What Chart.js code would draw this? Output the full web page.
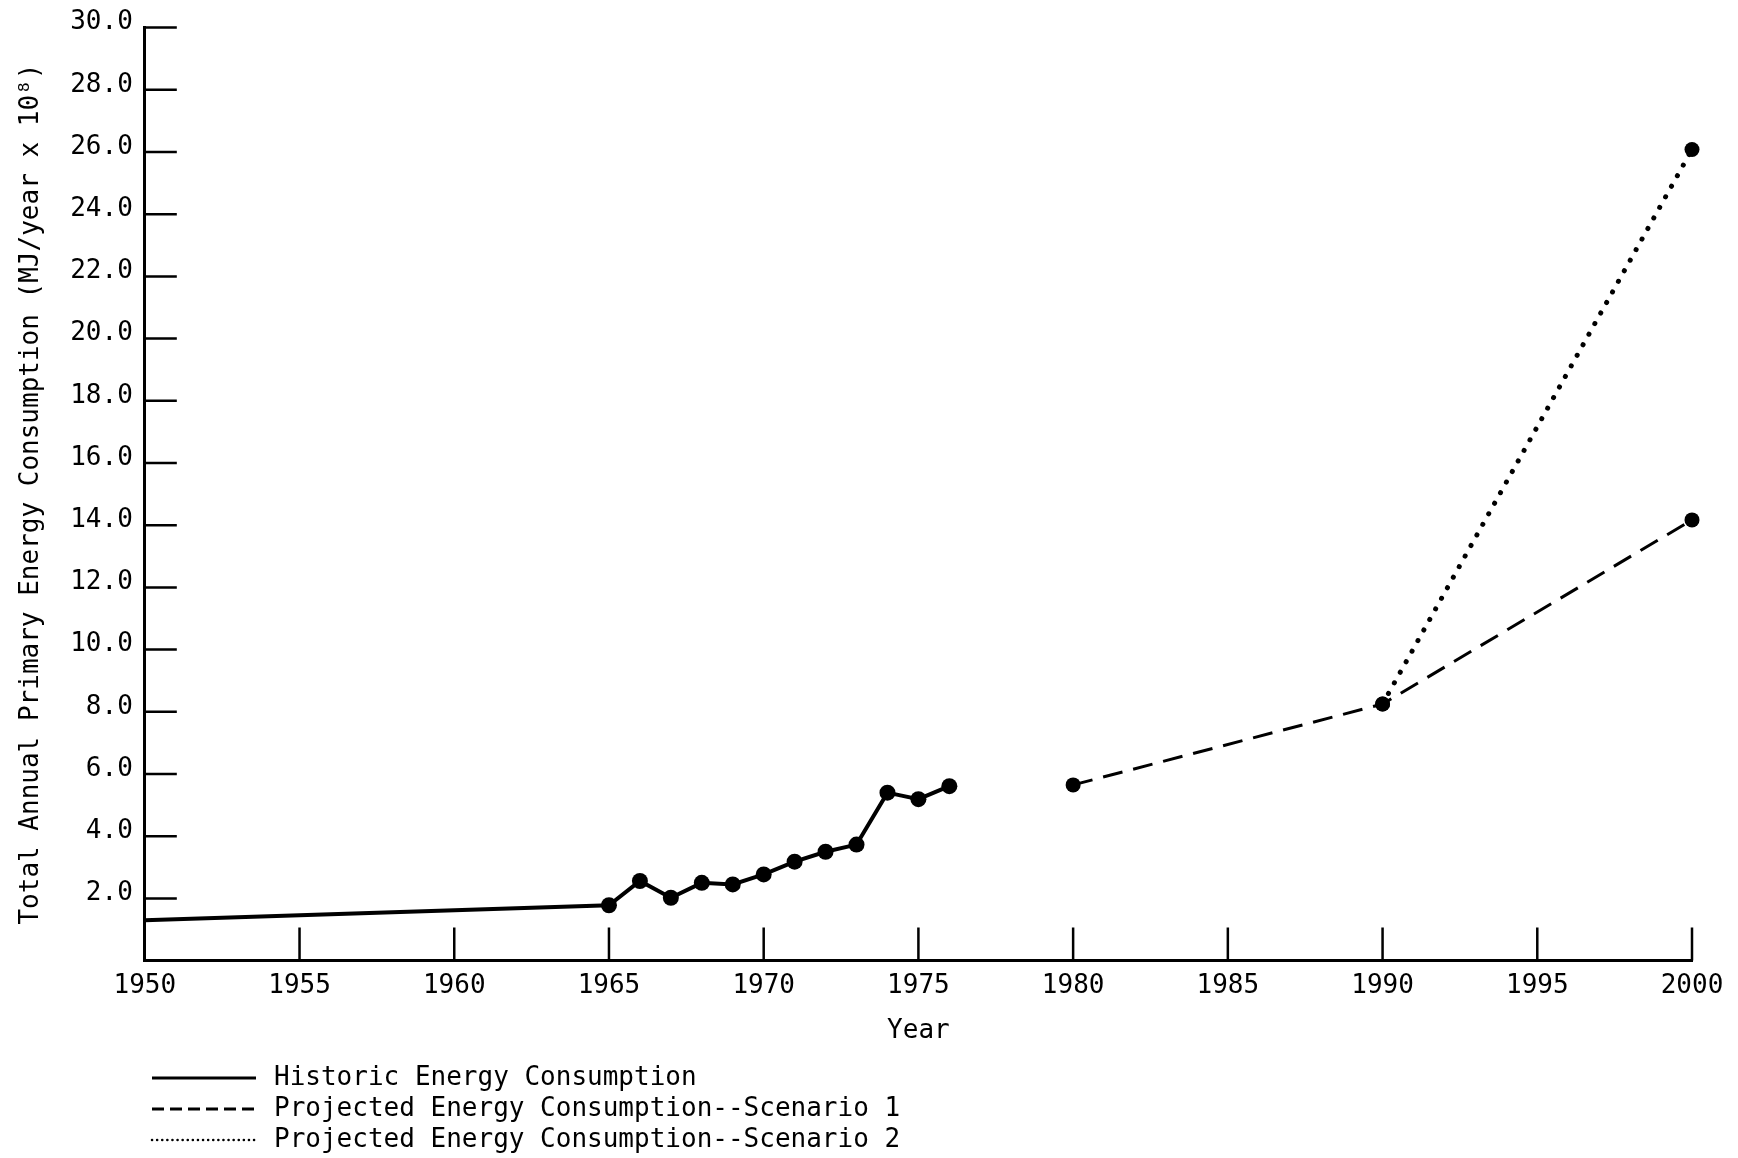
<!DOCTYPE html>
<html>
<head>
<meta charset="utf-8">
<script src="https://cdn.jsdelivr.net/npm/chart.js@4.4.1/dist/chart.umd.min.js"></script>
<style>
    html, body { margin: 0; padding: 0; background: #fff; }
    #wrap { width: 1738px; height: 1158px; position: relative; }
</style>
</head>
<body>
<div id="wrap"><canvas id="myChart" width="1738" height="1158"></canvas></div>
<script>
// values
const historicYears = [1950, 1965, 1966, 1967, 1968, 1969, 1970, 1971, 1972, 1973, 1974, 1975, 1976];
const historicValues = [1.30, 1.78, 2.56, 2.02, 2.50, 2.45, 2.77, 3.18, 3.50, 3.73, 5.40, 5.19, 5.61];
const scenario1Years = [1980, 1990, 2000];
const scenario1Values = [5.65, 8.25, 14.17];
const scenario2Years = [1990, 2000];
const scenario2Values = [8.25, 26.08];
const yTicks = [0, 2, 4, 6, 8, 10, 12, 14, 16, 18, 20, 22, 24, 26, 28, 30];
const xTicks = [1950, 1955, 1960, 1965, 1970, 1975, 1980, 1985, 1990, 1995, 2000];

const FONT = '"DejaVu Sans Mono", "Liberation Mono", monospace';

function toPoints(xs, ys) {
    return xs.map(function (x, i) { return { x: x, y: ys[i] }; });
}

// ticks point inward from the axes
const inwardTicks = {
    id: 'inwardTicks',
    afterDraw: function (chart) {
        const ctx = chart.ctx;
        const xs = chart.scales.x, ys = chart.scales.y;
        const area = chart.chartArea;
        ctx.save();
        ctx.strokeStyle = '#000';
        ctx.lineWidth = 2.5;
        ctx.beginPath();
        yTicks.forEach(function (v) {
            if (v === 0) return;
            const py = ys.getPixelForValue(v);
            ctx.moveTo(area.left, py);
            ctx.lineTo(area.left + 32, py);
        });
        xTicks.forEach(function (v) {
            if (v === 1950) return;
            const px = xs.getPixelForValue(v);
            ctx.moveTo(px, area.bottom);
            ctx.lineTo(px, area.bottom - 33);
        });
        ctx.stroke();
        ctx.restore();
    }
};

// stacked legend under the axis title
const stackedLegend = {
    id: 'stackedLegend',
    afterDraw: function (chart) {
        const ctx = chart.ctx;
        const rows = [1078, 1109, 1140];
        ctx.save();
        chart.data.datasets.forEach(function (ds, i) {
            const y = rows[i];
            ctx.strokeStyle = ds.borderColor;
            ctx.lineWidth = ds.legendWidth;
            ctx.lineCap = ds.borderCapStyle || 'butt';
            ctx.setLineDash(ds.legendDash);
            ctx.beginPath();
            ctx.moveTo(152, y);
            ctx.lineTo(256, y);
            ctx.stroke();
            ctx.setLineDash([]);
            ctx.fillStyle = '#000';
            ctx.font = '26px ' + FONT;
            ctx.textBaseline = 'middle';
            ctx.fillText(ds.label, 274, y);
        });
        ctx.restore();
    }
};

const ctx = document.getElementById('myChart').getContext('2d');
const myChart = new Chart(ctx, {
    type: 'line',
    data: {
        datasets: [{
            label: 'Historic Energy Consumption',
            data: toPoints(historicYears, historicValues),
            borderColor: '#000',
            backgroundColor: '#000',
            borderWidth: 4,
            clip: false,
            pointRadius: historicYears.map(function (y) { return y === 1950 ? 0 : 8; }),
            pointBackgroundColor: '#000',
            pointBorderWidth: 0,
            legendWidth: 3,
            legendDash: []
        }, {
            label: 'Projected Energy Consumption--Scenario 1',
            data: toPoints(scenario1Years, scenario1Values),
            borderColor: '#000',
            backgroundColor: '#000',
            borderWidth: 3,
            borderDash: [20, 11],
            clip: false,
            pointRadius: 7.5,
            pointBackgroundColor: '#000',
            pointBorderWidth: 0,
            legendWidth: 3,
            legendDash: [12, 6]
        }, {
            label: 'Projected Energy Consumption--Scenario 2',
            data: toPoints(scenario2Years, scenario2Values),
            borderColor: '#000',
            backgroundColor: '#000',
            borderWidth: 5,
            borderDash: [0.1, 12],
            borderCapStyle: 'round',
            clip: false,
            pointRadius: 7.5,
            pointBackgroundColor: '#000',
            pointBorderWidth: 0,
            legendWidth: 2.5,
            legendDash: [0.1, 5]
        }]
    },
    options: {
        responsive: false,
        animation: false,
        layout: { padding: { left: 16, right: 46, top: 15, bottom: 111 } },
        plugins: {
            legend: { display: false },
            tooltip: { enabled: false }
        },
        scales: {
            x: {
                type: 'linear',
                min: 1950,
                max: 2000,
                afterBuildTicks: function (axis) {
                    axis.ticks = xTicks.map(function (v) { return { value: v }; });
                },
                grid: { display: true, drawOnChartArea: false, drawTicks: false },
                border: { display: true, color: '#000', width: 3 },
                ticks: {
                    color: '#000',
                    padding: 10,
                    maxRotation: 0,
                    font: { family: FONT, size: 26 },
                    callback: function (v) { return String(v); }
                },
                title: {
                    display: true,
                    text: 'Year',
                    color: '#000',
                    padding: { top: 4, bottom: 0 },
                    font: { family: FONT, size: 26 }
                }
            },
            y: {
                min: 0,
                max: 30,
                afterBuildTicks: function (axis) {
                    axis.ticks = yTicks.map(function (v) { return { value: v }; });
                },
                grid: { display: true, drawOnChartArea: false, drawTicks: false },
                border: { display: true, color: '#000', width: 3 },
                ticks: {
                    color: '#000',
                    padding: 12,
                    labelOffset: -5,
                    font: { family: FONT, size: 26 },
                    callback: function (v) { return v === 0 ? '' : v.toFixed(1); }
                },
                title: {
                    display: true,
                    text: 'Total Annual Primary Energy Consumption (MJ/year x 10\u2078)',
                    color: '#000',
                    padding: { top: 0, bottom: 11 },
                    font: { family: FONT, size: 26 }
                }
            }
        }
    },
    plugins: [inwardTicks, stackedLegend]
});
</script>
</body>
</html>
